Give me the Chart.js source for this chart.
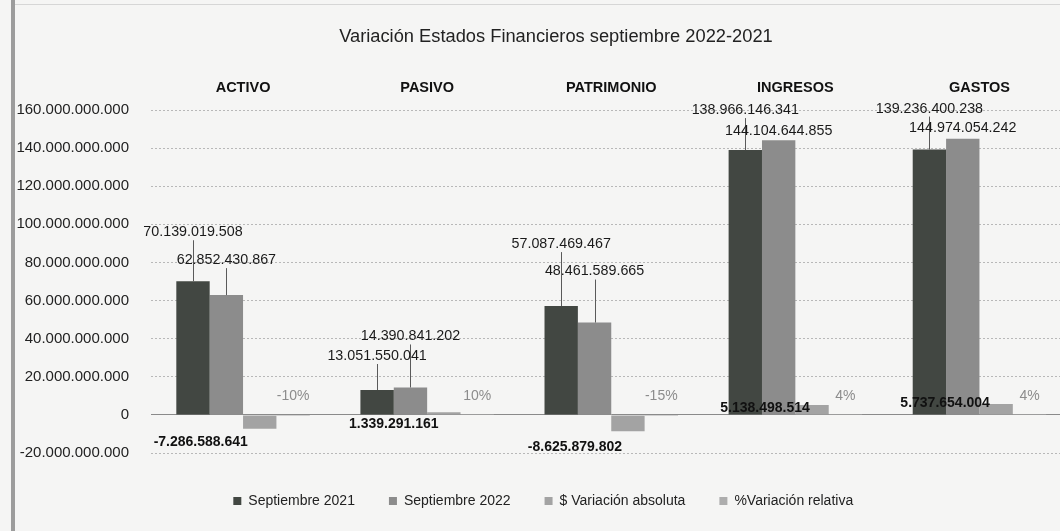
<!DOCTYPE html>
<html>
<head>
<meta charset="utf-8">
<script src="https://cdn.jsdelivr.net/npm/chart.js@4.4.1/dist/chart.umd.min.js"></script>
<style>
  html, body { margin:0; padding:0; overflow:hidden; background:#f5f5f4; width:1060px; height:531px; }
  #edge { position:absolute; left:11px; top:0; width:4px; height:531px; background:#9c9c9c; }
  #topline { position:absolute; left:15px; top:4px; width:1045px; height:1px; background:#d6d6d6; }
  #wrap { position:absolute; left:0; top:0; }
</style>
</head>
<body>
<div id="wrap"><canvas id="c" width="1110" height="531"></canvas></div>
<div id="edge"></div>
<div id="topline"></div>
<script>
// ---- data ----
const categories = ['ACTIVO', 'PASIVO', 'PATRIMONIO', 'INGRESOS', 'GASTOS'];
const sep2021 = [70139019508, 13051550041, 57087469467, 138966146341, 139236400238];
const sep2022 = [62852430867, 14390841202, 48461589665, 144104644855, 144974054242];
const variacionAbs = [-7286588641, 1339291161, -8625879802, 5138498514, 5737654004];
const variacionRel = [-0.10, 0.10, -0.15, 0.04, 0.04];
const seriesNames = ['Septiembre 2021', 'Septiembre 2022', '$ Variación absoluta', '%Variación relativa'];
const chartTitle = 'Variación Estados Financieros septiembre 2022-2021';

// ---- label placement (style only, relative to the library's bar elements) ----
const lbl2021Dy = [-49, -34, -62, -40, -41];
const lbl2022Dy = [-35, -51, -51, -9, -11];
const lblAbsDx = [-59, -50, -53, -47, -51];
const lblAbsDy = [13, 12, 16, 3, -1];
const lblRelDy = -19;

const FONT = '"Liberation Sans", Arial, sans-serif';
Chart.defaults.font.family = FONT;

function fmtNum(v) {
  return Math.round(v).toString().replace(/\B(?=(\d{3})+(?!\d))/g, '.');
}

const valueLabels = {
  id: 'valueLabels',
  afterDatasetsDraw(chart) {
    const ctx = chart.ctx;
    const zeroY = chart.scales.y.getPixelForValue(0);
    ctx.save();
    ctx.textAlign = 'center';
    ctx.textBaseline = 'middle';
    // leader lines for 2021 / 2022
    [[0, lbl2021Dy], [1, lbl2022Dy]].forEach(([di, dys]) => {
      const meta = chart.getDatasetMeta(di);
      meta.data.forEach((bar, i) => {
        const lineTop = bar.y + dys[i] + 8;
        if (bar.y - lineTop > 3) {
          ctx.strokeStyle = '#5a5a5a';
          ctx.lineWidth = 1;
          ctx.beginPath();
          ctx.moveTo(Math.round(bar.x) + 0.5, lineTop);
          ctx.lineTo(Math.round(bar.x) + 0.5, bar.y);
          ctx.stroke();
        }
      });
    });
    [[0, lbl2021Dy], [1, lbl2022Dy]].forEach(([di, dys]) => {
      const meta = chart.getDatasetMeta(di);
      const vals = chart.data.datasets[di].data;
      ctx.font = '14.3px ' + FONT;
      ctx.fillStyle = '#1a1a1a';
      meta.data.forEach((bar, i) => {
        ctx.fillText(fmtNum(vals[i]), bar.x, bar.y + dys[i]);
      });
    });
    // absolute variation
    {
      const meta = chart.getDatasetMeta(2);
      const vals = chart.data.datasets[2].data;
      ctx.font = 'bold 14px ' + FONT;
      ctx.fillStyle = '#111';
      meta.data.forEach((bar, i) => {
        ctx.fillText(fmtNum(vals[i]), bar.x + lblAbsDx[i], bar.y + lblAbsDy[i]);
      });
    }
    // relative variation
    {
      const meta = chart.getDatasetMeta(3);
      const vals = chart.data.datasets[3].data;
      ctx.font = '14px ' + FONT;
      ctx.fillStyle = '#8c8c8c';
      meta.data.forEach((bar, i) => {
        ctx.fillText(Math.round(vals[i] * 100) + '%', bar.x, zeroY + lblRelDy);
      });
    }
    ctx.restore();
  }
};

const PAD_L = 15;

new Chart(document.getElementById('c'), {
  type: 'bar',
  data: {
    labels: categories,
    datasets: [
      { label: seriesNames[0], data: sep2021, backgroundColor: '#424742' },
      { label: seriesNames[1], data: sep2022, backgroundColor: '#8c8c8c' },
      { label: seriesNames[2], data: variacionAbs, backgroundColor: '#a3a3a3' },
      { label: seriesNames[3], data: variacionRel, backgroundColor: '#adadad' }
    ]
  },
  options: {
    responsive: false,
    animation: false,
    layout: { padding: { left: PAD_L, right: 38.5, top: 0, bottom: 13 } },
    datasets: { bar: { categoryPercentage: 0.725, barPercentage: 1.0, borderWidth: 0 } },
    plugins: {
      title: {
        display: true, text: '     ' + chartTitle, color: '#222',
        font: { size: 18.3, weight: 'normal' },
        padding: { top: 26, bottom: 10 }
      },
      legend: {
        position: 'bottom',
        labels: { boxWidth: 8, boxHeight: 8, padding: 34, color: '#222', font: { size: 14 } }
      },
      tooltip: { enabled: false }
    },
    scales: {
      x: {
        position: 'top',
        grid: { display: false, drawTicks: false },
        border: { display: false },
        ticks: { padding: 13, color: '#111', font: { size: 14.5, weight: 'bold' } },
        afterFit: s => { s.height = 110 - 26 - 10 - 18.3 * 1.2; }
      },
      xSpacer: {
        type: 'category',
        position: 'bottom',
        grid: { display: false, drawTicks: false },
        border: { display: false },
        ticks: { display: false },
        afterFit: s => { s.height = 7; }
      },
      y: {
        min: -20000000000,
        max: 160000000000,
        ticks: { stepSize: 20000000000, padding: 22, color: '#222', font: { size: 15 }, callback: v => fmtNum(v) },
        grid: {
          drawTicks: false,
          lineWidth: 1,
          color: c => (c.tick && c.tick.value === 0) ? '#8a8a8a' : '#b8b8b8'
        },
        border: { display: false, dash: c => (c.tick && c.tick.value === 0) ? [] : [2, 2] },
        afterFit: s => { s.width = 151 - PAD_L; }
      }
    }
  },
  plugins: [valueLabels]
});
</script>
</body>
</html>
